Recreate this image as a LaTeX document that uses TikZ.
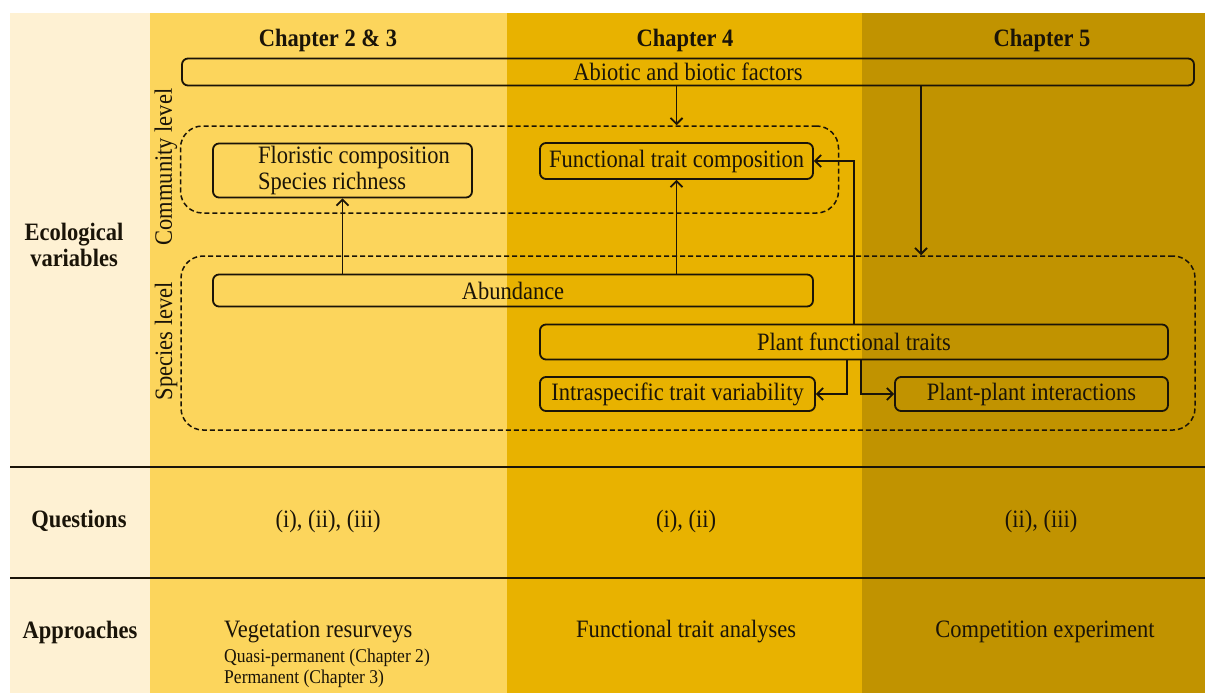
\documentclass[tikz,border=0pt]{standalone}
\usepackage{fontspec}
\setmainfont{Liberation Serif}[FakeStretch=0.9]
\usetikzlibrary{arrows.meta,calc}
\definecolor{cream}{HTML}{FEF1D3}
\definecolor{colA}{HTML}{FCD55C}
\definecolor{colB}{HTML}{E8B200}
\definecolor{colC}{HTML}{C19300}
\definecolor{ink}{HTML}{1A1408}
\begin{document}
\begin{tikzpicture}[x=1pt,y=-1pt,
  box/.style={draw=ink,line width=1.8pt,rounded corners=6pt,inner sep=0pt,text=ink,font=\fontsize{25}{26}\selectfont},
  group/.style={draw=ink,line width=1.5pt,dash pattern=on 5pt off 3pt,rounded corners=22pt,inner sep=0pt},
  arr/.style={draw=ink,line width=1.8pt,-{Straight Barb[length=6pt,width=12pt]}},
  txt/.style={inner sep=0pt,text=ink,font=\fontsize{25}{26}\selectfont},
  small/.style={inner sep=0pt,text=ink,font=\fontsize{19.5}{21}\selectfont},
  hd/.style={inner sep=0pt,text=ink,font=\fontsize{25}{26}\selectfont\bfseries},
  rule/.style={draw=ink,line width=1.8pt}
]
\useasboundingbox (0,0) rectangle (1205,693);
\fill[white] (0,0) rectangle (1205,693);
\fill[cream] (10,13) rectangle (150,693);
\fill[colA] (150,13) rectangle (507,693);
\fill[colB] (507,13) rectangle (862,693);
\fill[colC] (862,13) rectangle (1205,693);
\draw[rule] (10,467) -- (1205,467);
\draw[rule] (10,578) -- (1205,578);

% headers
\node[hd] (h1) at (328,40) {Chapter 2 \& 3};
\node[hd] (h2) at (685,40) {Chapter 4};
\node[hd] (h3) at (1042,40) {Chapter 5};

% row labels
\node[hd,align=center] (ecol) at (74,245) {Ecological\\variables};
\node[hd] (ques) at (79,521) {Questions};
\node[hd] (appr) at (80,632) {Approaches};

% rotated level labels
\node[txt,rotate=90] (cl) at (166,167) {Community level};
\node[txt,rotate=90] (sl) at (166,341) {Species level};

% groups
\node[group,minimum width=658,minimum height=87] (comm) at (509.5,169.5) {};
\node[group,minimum width=1014,minimum height=174] (spec) at (688,343) {};

% boxes
\node[box,minimum width=1012,minimum height=27] (abio) at (688,72) {Abiotic and biotic factors};
\node[box,minimum width=259,minimum height=54,align=left] (flor) at (342.5,170.5) {\hspace*{23pt}Floristic composition\\\hspace*{23pt}Species richness};
\node[box,minimum width=273,minimum height=36] (ftc) at (676.5,161) {Functional trait composition};
\node[box,minimum width=600,minimum height=32] (abun) at (513,290.5) {Abundance};
\node[box,minimum width=628,minimum height=35] (pft) at (854,342) {Plant functional traits};
\node[box,minimum width=275,minimum height=34] (intra) at (677.5,394) {Intraspecific trait variability};
\node[box,minimum width=273,minimum height=34] (ppi) at (1031.5,394) {Plant-plant interactions};

% connectors
\coordinate (xb) at (921,0);
\draw[arr] (abio.south -| ftc.north) -- (comm.north -| ftc.north);
\draw[arr] (abio.south -| xb) -- (spec.north -| xb);
\draw[arr] (abun.north -| flor.south) -- (flor.south);
\draw[arr] (abun.north -| ftc.south) -- (ftc.south);
\draw[arr] (pft.north) |- (ftc.east);
\draw[arr] ($(pft.south)+(-7,0)$) |- (intra.east);
\draw[arr] ($(pft.south)+(7,0)$) |- (ppi.west);

% questions
\node[txt] (q1) at (328,521) {(i), (ii), (iii)};
\node[txt] (q2) at (686,521) {(i), (ii)};
\node[txt] (q3) at (1041,521) {(ii), (iii)};

% approaches
\node[txt,anchor=west] (a1) at (224,632) {Vegetation resurveys};
\node[small,anchor=west] (a1b) at (224,658) {Quasi-permanent (Chapter 2)};
\node[small,anchor=west] (a1c) at (224,679) {Permanent (Chapter 3)};
\node[txt] (a2) at (686,632) {Functional trait analyses};
\node[txt] (a3) at (1045,632) {Competition experiment};
\end{tikzpicture}
\end{document}
